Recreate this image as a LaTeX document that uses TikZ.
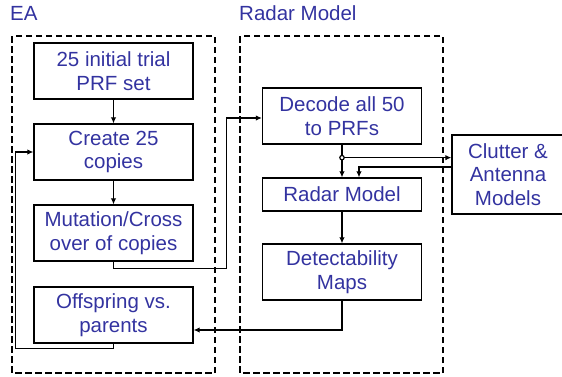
\documentclass[tikz,border=0pt]{standalone}
\usepackage{fontspec}
\setmainfont{Liberation Sans}
\usetikzlibrary{arrows.meta}
\definecolor{eablue}{RGB}{51,51,160}
\begin{document}
\begin{tikzpicture}[x=1pt,y=-1pt,
  box/.style={draw,line width=1.3pt,minimum width=159pt,minimum height=56pt,inner sep=0pt,align=center,text=eablue,font=\fontsize{20.5}{23.5}\selectfont},
  title/.style={anchor=base west,inner sep=0pt,text=eablue,font=\fontsize{20.5}{23.5}\selectfont},
  group/.style={dashed,dash pattern=on 6.5pt off 3.5pt,line width=1.4pt},
  link/.style={line width=1.2pt},
  arr/.style={link,-{Latex[length=6pt,width=5.5pt]}}]
\useasboundingbox (0,0) rectangle (562,376);
\draw[group] (12,36) rectangle (215,373);
\draw[group] (240,36) rectangle (443,373);
\draw (10,20) node[title] (ealab) {EA};
\draw (239,20) node[title] (radlab) {Radar Model};
\draw (113.5,71) node[box] (init) {25 initial trial\\PRF set};
\draw (113.5,152) node[box] (copies) {Create 25\\copies};
\draw (113.5,233) node[box] (mut) {Mutation/Cross\\over of copies};
\draw (113.5,315) node[box] (off) {Offspring vs.\\parents};
\draw (342,116) node[box] (dec) {Decode all 50\\to PRFs};
\draw (342,194.5) node[box,minimum height=33pt] (radar) {Radar Model};
\draw (342,272) node[box] (det) {Detectability\\Maps};
\draw (508,174.5) node[box,minimum width=112pt,minimum height=79pt] (clut) {Clutter \&\\Antenna\\Models};
\draw[arr] (init) -- (copies);
\draw[arr] (copies) -- (mut);
\draw[arr] (off.south) -- ++(0,5) -| ([xshift=-18pt]copies.west) -- (copies.west);
\draw[arr] (mut.south) -- ++(0,7) -| ([xshift=-35pt,yshift=-2pt]dec.west) -- ([yshift=-2pt]dec.west);
\path (dec.south) -- ++(0,13) coordinate (jn);
\draw[arr] (dec.south) -- (radar.north);
\draw[arr] (jn) -- (jn -| clut.west);
\draw[arr] ([yshift=7.5pt]clut.west) -| ([xshift=17pt]radar.north);
\draw[link,fill=white] (jn) circle (2.2pt);
\draw[arr] (radar) -- (det);
\draw[arr] (det.south) |- ([yshift=-15pt]off.east);
\end{tikzpicture}
\end{document}
